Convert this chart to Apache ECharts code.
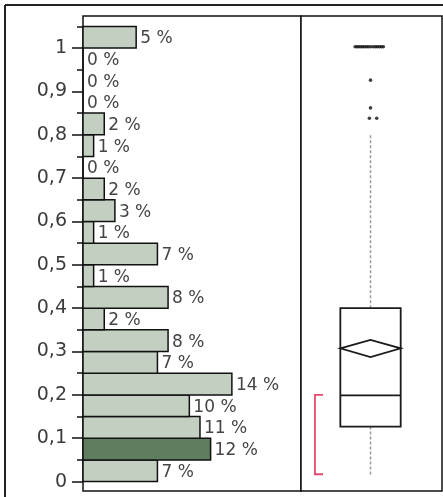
<!DOCTYPE html>
<html>
<head>
<meta charset="utf-8">
<script src="https://cdn.jsdelivr.net/npm/echarts@6/dist/echarts.min.js"></script>
<style>
  html, body { margin: 0; padding: 0; background: #fff; }
  #chart { width: 443px; height: 497px; }
</style>
</head>
<body>
<div id="chart"></div>
<script>
// Histogram bins (lower edge of each 0.05-wide bin) and their share in percent
const binLows = [0, 0.05, 0.1, 0.15, 0.2, 0.25, 0.3, 0.35, 0.4, 0.45, 0.5,
                 0.55, 0.6, 0.65, 0.7, 0.75, 0.8, 0.85, 0.9, 0.95, 1.0];
const binPercents = [7, 12, 11, 10, 14, 7, 8, 2, 8, 1, 7,
                     1, 3, 2, 0, 1, 2, 0, 0, 0, 5];
const binWidth = 0.05;
const selectedBins = [0.05];

// Axis ticks and labels
const majorTicks = [0, 0.1, 0.2, 0.3, 0.4, 0.5, 0.6, 0.7, 0.8, 0.9, 1];
const majorLabels = ['0', '0,1', '0,2', '0,3', '0,4', '0,5', '0,6', '0,7', '0,8', '0,9', '1'];
const minorTicks = [0.05, 0.15, 0.25, 0.35, 0.45, 0.55, 0.65, 0.75, 0.85, 0.95, 1.05];

// Box plot summary
const whiskerLow = 0.015;
const quartile1 = 0.127;
const median = 0.199;
const quartile3 = 0.4;
const whiskerHigh = 0.799;
const mean = 0.3075;
const meanCI = [0.287, 0.327];
const shortestHalf = [0.017, 0.2];

// Outliers: value and horizontal jitter (fraction of panel width)
const outlierValues = [1.003, 1.003, 1.003, 1.003, 1.003, 1.003, 1.003, 1.003,
                       1.003, 1.003, 1.003, 1.003, 1.003, 1.003, 1.003,
                       0.926, 0.862, 0.838, 0.838];
const outlierJitter = [-0.109, -0.095, -0.082, -0.068, -0.055, -0.041, -0.027, -0.013,
                       0.004, 0.022, 0.036, 0.05, 0.064, 0.078, 0.091,
                       0, 0, -0.008, 0.044];

const yMin = -0.02168, yMax = 1.074;
const boxCenter = 0.493, boxHalf = 0.214;
const bracketX = 0.099, bracketTick = 0.156;

const chart = echarts.init(document.getElementById('chart'), null, { renderer: 'canvas' });

const histData = binLows.map((lo, i) => [lo, lo + binWidth, binPercents[i], selectedBins.includes(lo) ? 1 : 0]);
const outlierData = outlierValues.map((v, i) => [boxCenter + outlierJitter[i], v]);

const labelFont = 'DejaVu Sans';

chart.setOption({
  animation: false,
  grid: [
    { left: 83, top: 16, width: 218, height: 475, show: true, borderColor: '#111', borderWidth: 1.5, backgroundColor: '#fff', containLabel: false },
    { left: 301, top: 16, width: 141, height: 475, show: true, borderColor: '#111', borderWidth: 1.5, backgroundColor: '#fff', containLabel: false }
  ],
  graphic: [
    { type: 'line', shape: { x1: 5, y1: 5, x2: 443, y2: 5 }, style: { stroke: '#222', lineWidth: 2 } },
    { type: 'line', shape: { x1: 5, y1: 5, x2: 5, y2: 497 }, style: { stroke: '#222', lineWidth: 2 } }
  ],
  xAxis: [
    { type: 'value', gridIndex: 0, min: 0, max: 20.5, show: false },
    { type: 'value', gridIndex: 1, min: 0, max: 1, show: false }
  ],
  yAxis: [
    {
      type: 'value', gridIndex: 0, min: yMin, max: yMax, position: 'left',
      axisLine: { show: false },
      splitLine: { show: false },
      axisTick: { show: true, length: 11, customValues: majorTicks, lineStyle: { color: '#111', width: 1.5 } },
      axisLabel: {
        show: true, customValues: majorTicks, margin: 16,
        color: '#3c3c3c', fontFamily: labelFont, fontSize: 19,
        formatter: (v) => {
          let best = 0;
          majorTicks.forEach((t, i) => { if (Math.abs(t - v) < Math.abs(majorTicks[best] - v)) best = i; });
          return majorLabels[best];
        }
      }
    },
    {
      type: 'value', gridIndex: 0, min: yMin, max: yMax, position: 'left',
      axisLine: { show: false },
      splitLine: { show: false },
      axisLabel: { show: false },
      axisTick: { show: true, length: 6, customValues: minorTicks, lineStyle: { color: '#111', width: 1.5 } }
    },
    { type: 'value', gridIndex: 1, min: yMin, max: yMax, show: false }
  ],
  series: [
    {
      type: 'custom',
      xAxisIndex: 0, yAxisIndex: 0,
      data: histData,
      clip: false,
      renderItem: (params, api) => {
        const lo = api.value(0), hi = api.value(1), pct = api.value(2), sel = api.value(3);
        const pTop = api.coord([0, hi]);
        const pBot = api.coord([pct, lo]);
        const midY = (pTop[1] + pBot[1]) / 2;
        return {
          type: 'group',
          children: [
            {
              type: 'rect',
              shape: { x: pTop[0], y: pTop[1], width: pBot[0] - pTop[0], height: pBot[1] - pTop[1] },
              style: { fill: sel ? '#5f7d5f' : '#c3d0c1', stroke: '#111', lineWidth: 1.5 }
            },
            {
              type: 'text',
              x: pBot[0] + 4, y: midY + 1.5,
              style: {
                text: pct + ' %', fill: '#454545', font: '17px "' + labelFont + '"',
                verticalAlign: 'middle', align: 'left'
              }
            }
          ]
        };
      }
    },
    {
      type: 'custom',
      xAxisIndex: 1, yAxisIndex: 2,
      data: [[whiskerLow, quartile1, median, quartile3, whiskerHigh, mean, meanCI[0], meanCI[1], shortestHalf[0], shortestHalf[1]]],
      clip: false,
      renderItem: (params, api) => {
        const c = (x, y) => api.coord([x, y]);
        const [wl, q1, md, q3, wh, mn, ciLo, ciHi, shLo, shHi] = [0,1,2,3,4,5,6,7,8,9].map(i => api.value(i));
        const left = boxCenter - boxHalf, right = boxCenter + boxHalf;
        const dash = { stroke: '#999', lineWidth: 1.5, lineDash: [3, 2] };
        const solid = { stroke: '#1a1a1a', lineWidth: 1.8, fill: null };
        const bracket = { stroke: '#e8486c', lineWidth: 1.8, fill: null };
        const tl = c(left, q3), br = c(right, q1);
        return {
          type: 'group',
          children: [
            { type: 'line', shape: { x1: c(boxCenter, wh)[0], y1: c(boxCenter, wh)[1], x2: c(boxCenter, q3)[0], y2: c(boxCenter, q3)[1] }, style: dash },
            { type: 'line', shape: { x1: c(boxCenter, q1)[0], y1: c(boxCenter, q1)[1], x2: c(boxCenter, wl)[0], y2: c(boxCenter, wl)[1] }, style: dash },
            { type: 'rect', shape: { x: tl[0], y: tl[1], width: br[0] - tl[0], height: br[1] - tl[1] }, style: solid },
            { type: 'line', shape: { x1: c(left, md)[0], y1: c(left, md)[1], x2: c(right, md)[0], y2: c(right, md)[1] }, style: solid },
            { type: 'polygon', shape: { points: [c(left, mn), c(boxCenter, ciHi), c(right, mn), c(boxCenter, ciLo)] }, style: solid },
            { type: 'polyline', shape: { points: [c(bracketTick, shHi), c(bracketX, shHi), c(bracketX, shLo), c(bracketTick, shLo)] }, style: bracket }
          ]
        };
      }
    },
    {
      type: 'scatter',
      xAxisIndex: 1, yAxisIndex: 2,
      data: outlierData,
      symbol: 'circle',
      symbolSize: 3.6,
      itemStyle: { color: '#111' },
      silent: true
    }
  ]
});
</script>
</body>
</html>
